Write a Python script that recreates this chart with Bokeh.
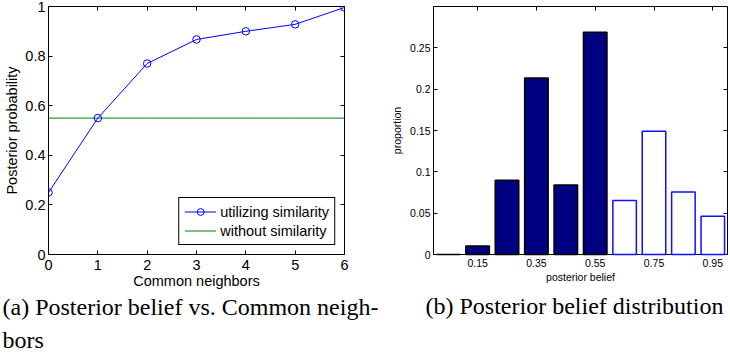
from bokeh.plotting import figure
from bokeh.models import FixedTicker, LinearAxis, Range1d, Title, CustomLabelingPolicy
from bokeh.layouts import row
from bokeh.embed import file_html
from bokeh.resources import INLINE

# ---------------- data: (a) posterior vs. common neighbors ----------------
common_neighbors = [0, 1, 2, 3, 4, 5, 6]
posterior_utilizing_similarity = [0.25, 0.55, 0.77, 0.867, 0.90, 0.928, 0.996]
posterior_without_similarity = 0.55
a_x_ticks = [0, 1, 2, 3, 4, 5, 6]
a_x_labels = ["0", "1", "2", "3", "4", "5", "6"]
a_y_ticks = [0, 0.2, 0.4, 0.6, 0.8, 1]
a_y_labels = ["0", "0.2", "0.4", "0.6", "0.8", "1"]

# ---------------- data: (b) posterior belief distribution ----------------
belief_bins_low = [0.05, 0.15, 0.25, 0.35, 0.45, 0.55]
proportion_low = [0.0, 0.0103, 0.0899, 0.2135, 0.084, 0.269]
belief_bins_high = [0.65, 0.75, 0.85, 0.95]
proportion_high = [0.0654, 0.149, 0.0757, 0.0464]
b_x_ticks = [0.15, 0.35, 0.55, 0.75, 0.95]
b_x_labels = ["0.15", "0.35", "0.55", "0.75", "0.95"]
b_y_ticks = [0, 0.05, 0.1, 0.15, 0.2, 0.25]
b_y_labels = ["0", "0.05", "0.1", "0.15", "0.2", "0.25"]

caption_a = "(a) Posterior belief vs. Common neigh-\nbors"
caption_b = "(b) Posterior belief distribution"

SANS = "Liberation Sans"
SERIF = "Liberation Serif"


def style_axis(ax, ticks, labels, size):
    ax.ticker = FixedTicker(ticks=ticks)
    ax.major_label_overrides = dict(zip(ticks, labels))
    ax.major_tick_in = 4
    ax.major_tick_out = 0
    ax.minor_tick_line_color = None
    ax.axis_line_color = "black"
    ax.major_tick_line_color = "black"
    ax.major_label_text_color = "black"
    ax.major_label_text_font = SANS
    ax.major_label_text_font_size = size
    ax.axis_label_text_font = SANS
    ax.axis_label_text_font_size = size
    ax.axis_label_text_font_style = "normal"
    ax.axis_label_text_color = "black"


def tick_only_axis(ticks):
    return LinearAxis(
        ticker=FixedTicker(ticks=ticks),
        major_label_policy=CustomLabelingPolicy(
            code="for (let i = 0; i < indices.size; i++) { indices.unset(i) } return indices"),
        major_label_text_font_size="0px",
        major_label_standoff=0,
        major_tick_in=4,
        major_tick_out=0,
        minor_tick_line_color=None,
        axis_line_color=None,
        major_tick_line_color="black",
    )


def base_style(p):
    p.xgrid.visible = False
    p.ygrid.visible = False
    p.outline_line_color = "black"
    p.outline_line_alpha = 1
    p.outline_line_width = 1
    p.background_fill_color = "white"
    p.border_fill_color = "white"


H = 356

# ---------------- figure (a) ----------------
pa = figure(
    width=388, height=H,
    x_range=Range1d(0, 6), y_range=Range1d(0, 1),
    output_backend="svg", toolbar_location=None,
    min_border_left=48, min_border_right=44, min_border_top=6, min_border_bottom=102,
)
base_style(pa)
style_axis(pa.xaxis[0], a_x_ticks, a_x_labels, "14.5px")
style_axis(pa.yaxis[0], a_y_ticks, a_y_labels, "14.5px")
pa.xaxis.axis_label = "Common neighbors"
pa.yaxis.axis_label = "Posterior probability"
pa.xaxis.major_label_standoff = 5
pa.xaxis.axis_label_standoff = 0
pa.yaxis.major_label_standoff = 3
pa.yaxis.axis_label_standoff = 2
pa.add_layout(tick_only_axis(a_x_ticks), "above")
pa.add_layout(tick_only_axis(a_y_ticks), "right")

pa.line(common_neighbors, [posterior_without_similarity] * len(common_neighbors),
        line_color="#008000", line_width=1, legend_label="without similarity")
pa.line(common_neighbors, posterior_utilizing_similarity,
        line_color="#0000ff", line_width=1, legend_label="utilizing similarity")
pa.scatter(common_neighbors, posterior_utilizing_similarity, marker="circle", size=7.5,
           fill_color=None, line_color="#0000ff", line_width=1,
           legend_label="utilizing similarity")

leg = pa.legend[0]
leg.items = [leg.items[1], leg.items[0]]
leg.location = "bottom_right"
leg.margin = 9
leg.padding = 5
leg.spacing = 2
leg.glyph_width = 32
leg.glyph_height = 17
leg.label_height = 17
leg.label_standoff = 4
leg.label_text_font = SANS
leg.label_text_font_size = "14.5px"
leg.label_text_color = "black"
leg.border_line_color = "black"
leg.border_line_width = 1
leg.border_line_alpha = 1
leg.background_fill_alpha = 1

pa.add_layout(Title(text=caption_a, align="left", offset=-46,
                    text_font=SERIF, text_font_size="24px",
                    text_font_style="normal", text_color="black",
                    text_line_height=1.3, standoff=0), "below")

# ---------------- figure (b) ----------------
pb = figure(
    width=730 - 388, height=H,
    x_range=Range1d(0, 1), y_range=Range1d(0, 0.3),
    output_backend="svg", toolbar_location=None,
    min_border_left=45, min_border_right=3, min_border_top=5, min_border_bottom=100,
)
base_style(pb)
style_axis(pb.xaxis[0], b_x_ticks, b_x_labels, "10.5px")
style_axis(pb.yaxis[0], b_y_ticks, b_y_labels, "10.5px")
pb.xaxis.axis_label = "posterior belief"
pb.yaxis.axis_label = "proportion"
pb.xaxis.major_label_standoff = 4
pb.xaxis.axis_label_standoff = 1
pb.yaxis.major_label_standoff = 3
pb.yaxis.axis_label_standoff = 4
pb.add_layout(tick_only_axis(b_x_ticks), "above")
pb.add_layout(tick_only_axis(b_y_ticks), "right")

pb.vbar(x=belief_bins_low, top=proportion_low, width=0.08, bottom=0,
        fill_color="#000080", line_color="black", line_width=1.5, level="annotation")
pb.vbar(x=belief_bins_high, top=proportion_high, width=0.08, bottom=0,
        fill_color="white", line_color="#1010ff", line_width=1.5, level="annotation")

pb.add_layout(Title(text=caption_b, align="left", offset=-8,
                    text_font=SERIF, text_font_size="24px",
                    text_font_style="normal", text_color="black",
                    text_line_height=1.3, standoff=11), "below")

layout = row(pa, pb)
open("out.html", "w").write(file_html(layout, INLINE))
